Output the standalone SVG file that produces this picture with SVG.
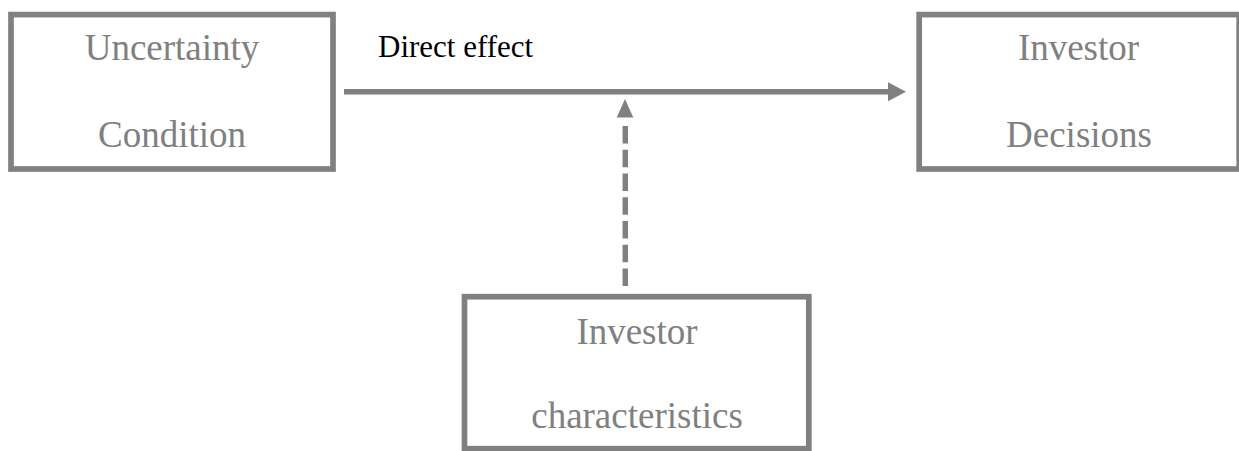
<svg xmlns="http://www.w3.org/2000/svg" width="1239" height="451" viewBox="0 0 1239 451">
<style>
.box{fill:#ffffff;stroke:#808080;stroke-width:5.7}
.lbl{font-family:"Liberation Serif","Times New Roman",serif;font-size:37px;fill:#808080;text-anchor:middle}
.edge{font-family:"Liberation Serif","Times New Roman",serif;font-size:31px;fill:#000000}
.conn{stroke:#808080;stroke-width:5.5;fill:none}
</style>
<rect width="1239" height="451" fill="#ffffff"/>
<g id="uncertainty">
<rect class="box" x="11" y="14.6" width="322" height="154.4"/>
<text class="lbl" x="172" y="59.5">Uncertainty</text>
<text class="lbl" x="172" y="147.3">Condition</text>
</g>
<g id="decisions">
<rect class="box" x="919.2" y="14.6" width="320" height="154.4"/>
<text class="lbl" x="1078.5" y="59.5">Investor</text>
<text class="lbl" x="1079" y="147.3">Decisions</text>
</g>
<g id="characteristics">
<rect class="box" x="464.5" y="296.7" width="344.3" height="152"/>
<text class="lbl" x="637" y="343.5">Investor</text>
<text class="lbl" x="637" y="428">characteristics</text>
</g>
<g id="connectors">
<line class="conn" x1="344" y1="91.8" x2="889" y2="91.8"/>
<polygon points="906,91.8 888,82.3 888,101.3" fill="#808080"/>
<text class="edge" x="378" y="57">Direct effect</text>
<line class="conn" x1="625.3" y1="286" x2="625.3" y2="125" stroke-dasharray="17.5 6.25"/>
<polygon points="625,99 616.7,117.5 633.3,117.5" fill="#808080"/>
</g>
</svg>
